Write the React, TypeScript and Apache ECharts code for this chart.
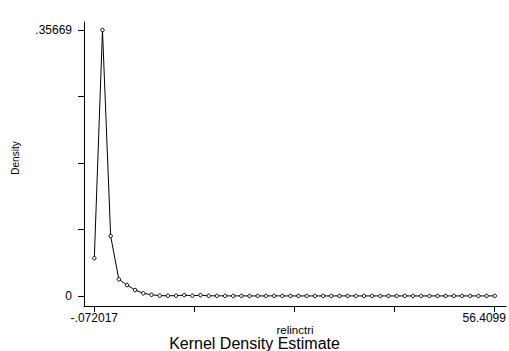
import React, { useEffect, useRef } from "react";
import * as echarts from "echarts";

const xValues: number[] = [
  -0.072, 1.0807, 2.2334, 3.3861, 4.5388, 5.6915, 6.8442, 7.9968, 9.1495, 10.3022,
  11.4549, 12.6076, 13.7603, 14.913, 16.0657, 17.2184, 18.3711, 19.5238, 20.6765, 21.8292,
  22.9818, 24.1345, 25.2872, 26.4399, 27.5926, 28.7453, 29.898, 31.0507, 32.2034, 33.3561,
  34.5088, 35.6615, 36.8142, 37.9668, 39.1195, 40.2722, 41.4249, 42.5776, 43.7303, 44.883,
  46.0357, 47.1884, 48.3411, 49.4938, 50.6465, 51.7992, 52.9518, 54.1045, 55.2572, 56.4099,
];

const densityValues: number[] = [
  0.0506, 0.35669, 0.0805, 0.0224, 0.0147, 0.008, 0.0036, 0.0017, 0.0005, 0.0003,
  0.0004, 0.0012, 0.0004, 0.001, 0.0003, 0.0002, 0.0002, 0.0001, 0.0002, 0.0001,
  0.0001, 0.0001, 0.0002, 0.0001, 0.0001, 0.0001, 0.0001, 0.0001, 0.0001, 0.0001,
  0.0001, 0.0001, 0.0001, 0.0001, 0.0001, 0.0001, 0.0001, 0.0001, 0.0001, 0.0001,
  0.0001, 0.0001, 0.0001, 0.0001, 0.0001, 0.0001, 0.0001, 0.0001, 0.0001, 0.0002,
];

const xTicks: number[] = [-0.072017, 14.048462, 28.168942, 42.289421, 56.4099];
const xLabelValues: number[] = [-0.072017, 56.4099];
const xLabelTexts: string[] = ["-.072017", "56.4099"];
const yTicks: number[] = [0, 0.0891725, 0.178345, 0.2675175, 0.35669];
const yLabelValues: number[] = [0, 0.35669];
const yLabelTexts: string[] = ["0", ".35669"];

const FONT = "'Liberation Sans', Arial, sans-serif";

export default function App() {
  const ref = useRef<HTMLDivElement>(null);
  useEffect(() => {
    if (!ref.current) return;
    const chart = echarts.init(ref.current, null, { renderer: "svg" });
    const data = xValues.map((x, i) => [x, densityValues[i]]);
    chart.setOption({
      animation: false,
      backgroundColor: "#fff",
      textStyle: { fontFamily: FONT, color: "#000" },
      title: {
        text: "Kernel Density Estimate",
        left: "center",
        top: 335,
        padding: 0,
        textStyle: { fontFamily: FONT, fontSize: 16, fontWeight: "normal", color: "#000" },
      },
      graphic: [
        {
          type: "text",
          x: 15,
          y: 158,
          rotation: Math.PI / 2,
          style: {
            text: "Density",
            fontFamily: FONT,
            fontSize: 10,
            fill: "#000",
            align: "center",
            verticalAlign: "middle",
          },
        },
      ],
      grid: { left: 84, right: 3, top: 22, bottom: 45 },
      xAxis: {
        type: "value",
        min: -1.525,
        max: 58.0,
        name: "relinctri",
        nameLocation: "middle",
        nameGap: 18,
        nameMoveOverlap: false,
        nameTextStyle: { fontFamily: FONT, fontSize: 11.5, color: "#000" },
        axisLine: { show: true, onZero: false, lineStyle: { color: "#000", width: 1 } },
        axisTick: { show: true, length: 6, lineStyle: { color: "#000" }, customValues: xTicks },
        axisLabel: {
          show: true,
          margin: 6,
          fontFamily: FONT,
          fontSize: 12,
          color: "#000",
          customValues: xLabelValues,
          formatter: (v: number) => {
            const i = xLabelValues.findIndex((t) => Math.abs(t - v) < 1e-6);
            if (i === 1) return "{r|" + xLabelTexts[1] + "}";
            return i >= 0 ? xLabelTexts[i] : "";
          },
          rich: { r: { fontFamily: FONT, fontSize: 12, color: "#000", padding: [0, 21, 0, 0] } },
        },
        splitLine: { show: false },
      },
      yAxis: {
        type: "value",
        min: -0.013409,
        max: 0.36742,
        axisLine: { show: true, onZero: false, lineStyle: { color: "#000", width: 1 } },
        axisTick: { show: true, length: 6, lineStyle: { color: "#000" }, customValues: yTicks },
        axisLabel: {
          show: true,
          margin: 12,
          fontFamily: FONT,
          fontSize: 12,
          color: "#000",
          customValues: yLabelValues,
          formatter: (v: number) => {
            const i = yLabelValues.findIndex((t) => Math.abs(t - v) < 1e-7);
            return i >= 0 ? yLabelTexts[i] : "";
          },
        },
        splitLine: { show: false },
      },
      series: [
        {
          type: "line",
          data,
          symbol: "circle",
          symbolSize: 3.5,
          lineStyle: { color: "#000", width: 1 },
          itemStyle: { color: "#fff", borderColor: "#000", borderWidth: 1 },
        },
      ],
    });
    return () => chart.dispose();
  }, []);
  return (
    <div
      ref={ref}
      style={{ position: "fixed", left: 0, top: 0, width: 509, height: 351, background: "#fff" }}
    />
  );
}
